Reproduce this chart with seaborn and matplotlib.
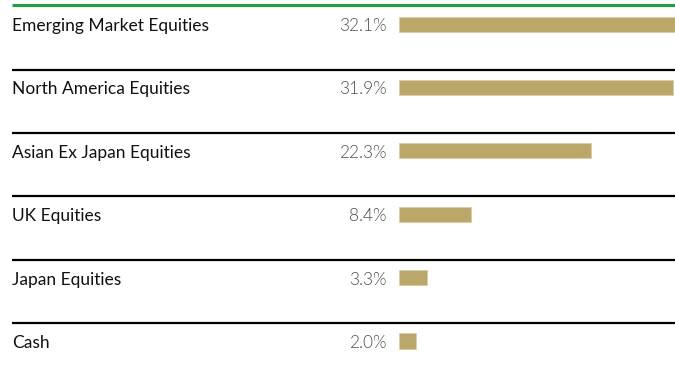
import matplotlib
matplotlib.use("Agg")
import matplotlib.pyplot as plt
import seaborn as sns
import pandas as pd

categories = [
    "Emerging Market Equities",
    "North America Equities",
    "Asian Ex Japan Equities",
    "UK Equities",
    "Japan Equities",
    "Cash",
]
weights = [32.1, 31.9, 22.3, 8.4, 3.3, 2.0]
value_labels = ["32.1%", "31.9%", "22.3%", "8.4%", "3.3%", "2.0%"]

df = pd.DataFrame({"category": categories, "weight": weights})

sns.set_theme(style="white")
plt.rcParams["font.family"] = ["Lato", "DejaVu Sans"]

W, H = 675, 380
fig = plt.figure(figsize=(W / 100, H / 100), dpi=100)

# row geometry in category units
ylim = (5.615, -0.379)

# background axes in pixel x-units for rules and text
base = fig.add_axes([0, 0, 1, 1])
base.set_xlim(0, W)
base.set_ylim(*ylim)
base.axis("off")

# bar axes covering the bar column
x0 = 399
bar_ax = fig.add_axes([x0 / W, 0, 1 - x0 / W, 1])
sns.barplot(data=df, x="weight", y="category", order=categories,
            color="#BCA76A", width=0.237, saturation=1,
            edgecolor="#D9CDA0", linewidth=0.6, ax=bar_ax)
bar_ax.set_xlim(0, max(weights))
bar_ax.set_ylim(*ylim)
bar_ax.axis("off")
bar_ax.patch.set_alpha(0)

# green top rule and black row separators
base.plot([12, W], [-0.30, -0.30], color="#1FA043", lw=2.2, solid_capstyle="butt")
for i in range(len(categories) - 1):
    y = i + 0.72
    base.plot([12, W], [y, y], color="black", lw=1.6, solid_capstyle="butt")

for i, (cat, lab) in enumerate(zip(categories, value_labels)):
    base.text(12, i + 0.03, cat, ha="left", va="center", fontsize=12.5, color="#111111")
    base.text(387, i + 0.03, lab, ha="right", va="center", fontsize=12.5,
              color="#505050", fontweight=300)

fig.savefig("out.png", dpi=100)
